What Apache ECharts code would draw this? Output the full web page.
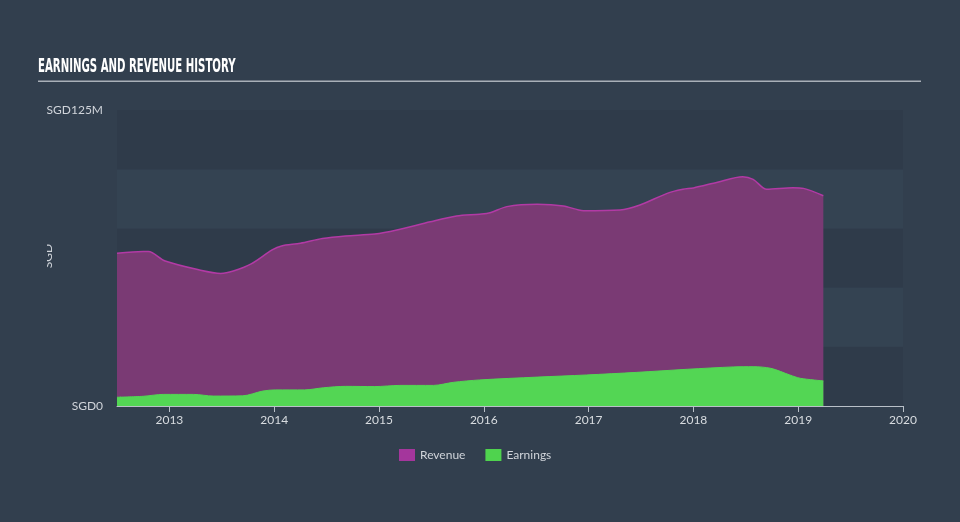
<!DOCTYPE html>
<html>
<head>
<meta charset="utf-8">
<script src="https://cdn.jsdelivr.net/npm/echarts@6/dist/echarts.min.js"></script>
<style>
html,body{margin:0;padding:0;background:#323f4e;}
#chart{width:960px;height:522px;}
</style>
</head>
<body>
<div id="chart"></div>
<script>
// Data (values in SGD millions, x in decimal years)
var revenueYears = [2012.5, 2012.75, 2012.8, 2012.96, 2013.29, 2013.49, 2013.61, 2013.78, 2013.98, 2014.07, 2014.25, 2014.46, 2014.68, 2014.96, 2015.17, 2015.49, 2015.74, 2015.96, 2016.06, 2016.22, 2016.51, 2016.76, 2016.95, 2017.3, 2017.49, 2017.75, 2017.9, 2018.0, 2018.23, 2018.47, 2018.57, 2018.7, 2018.95, 2019.05, 2019.24];
var revenueValues = [64.5, 65.2, 65.2, 61.2, 57.4, 56.0, 57.0, 60.0, 65.9, 67.6, 68.7, 70.7, 71.8, 72.6, 74.3, 77.8, 80.2, 81.0, 81.6, 84.2, 85.2, 84.5, 82.5, 82.8, 84.9, 89.8, 91.5, 92.1, 94.5, 96.8, 95.7, 91.5, 92.2, 91.9, 88.8];
var earningsYears = [2012.5, 2012.75, 2012.94, 2013.23, 2013.42, 2013.7, 2013.89, 2014.01, 2014.29, 2014.47, 2014.68, 2014.96, 2015.2, 2015.52, 2015.71, 2015.96, 2016.51, 2016.98, 2017.46, 2017.94, 2018.38, 2018.57, 2018.74, 2018.92, 2019.02, 2019.24];
var earningsValues = [3.7, 4.1, 4.9, 4.9, 4.2, 4.3, 6.3, 6.8, 6.8, 7.7, 8.3, 8.2, 8.7, 8.7, 10.0, 11.0, 12.2, 13.1, 14.2, 15.5, 16.5, 16.6, 15.9, 13.1, 11.7, 10.6];
var yearTicks = [2013, 2014, 2015, 2016, 2017, 2018, 2019, 2020];
var yTickLabels = {0: 'SGD0', 125: 'SGD125M'};
var titleText = 'EARNINGS AND REVENUE HISTORY';
var seriesNames = ['Revenue', 'Earnings'];

function pairs(xs, ys) { return xs.map(function (x, i) { return [x, ys[i]]; }); }

var chart = echarts.init(document.getElementById('chart'), null, {renderer: 'canvas'});
var bg = '#323f4e';
chart.setOption({
  backgroundColor: bg,
  animation: false,
  grid: {left: 117, right: 57, top: 110, bottom: 116, containLabel: false},
  legend: {
    data: [
      {name: seriesNames[0], itemStyle: {color: '#a4369c'}},
      {name: seriesNames[1], itemStyle: {color: '#4fd34e'}}
    ],
    left: 394, top: 444, itemWidth: 16, itemHeight: 12, itemGap: 20,
    icon: 'rect',
    textStyle: {color: '#d0d4da', fontSize: 12, fontFamily: 'Lato, "Open Sans", sans-serif'}
  },
  xAxis: {
    type: 'value', min: 2012.5, max: 2020,
    axisLine: {show: true, lineStyle: {color: '#b9c0c8', width: 1}},
    axisTick: {show: true, customValues: yearTicks, length: 6, lineStyle: {color: '#b9c0c8'}},
    axisLabel: {show: true, customValues: yearTicks, color: '#d8dce0', fontSize: 12, margin: 8,
      fontFamily: 'Lato, "Open Sans", sans-serif',
      formatter: function (v) { return String(Math.round(v)); }},
    splitLine: {show: false}
  },
  yAxis: {
    type: 'value', min: 0, max: 125, interval: 25,
    axisLine: {show: false}, axisTick: {show: false},
    splitLine: {show: false},
    splitArea: {show: true, areaStyle: {color: ['#2f3b4a', '#344352']}},
    axisLabel: {color: '#d0d4da', fontSize: 12, margin: 14,
      fontFamily: 'Lato, "Open Sans", sans-serif',
      formatter: function (v) { return yTickLabels[v] !== undefined ? yTickLabels[v] : ''; }}
  },
  series: [
    {
      name: seriesNames[0], type: 'line', data: pairs(revenueYears, revenueValues),
      smooth: 0.3, symbol: 'none',
      lineStyle: {color: '#b23aa5', width: 1.5},
      itemStyle: {color: '#a4369c'},
      areaStyle: {color: '#7a3a74', opacity: 1},
      z: 2
    },
    {
      name: seriesNames[1], type: 'line', data: pairs(earningsYears, earningsValues),
      smooth: 0.3, symbol: 'none',
      lineStyle: {color: '#53d654', width: 1},
      itemStyle: {color: '#4fd34e'},
      areaStyle: {color: '#53d654', opacity: 1},
      z: 3
    }
  ],
  graphic: [
    {type: 'text', x: 38, y: 58, scaleX: 0.535,
      style: {text: titleText, fill: '#ffffff', verticalAlign: 'top',
      font: 'bold 19px "DejaVu Sans", sans-serif'}},
    {type: 'rect', shape: {x: 38, y: 80.5, width: 883, height: 1.5}, style: {fill: '#a9b0b8'}},
    {type: 'text', x: 48, y: 256, rotation: Math.PI / 2,
      style: {text: 'SGD', fill: '#d0d4da', font: '12px Lato, "Open Sans", sans-serif', align: 'center', verticalAlign: 'middle'}},
    {type: 'rect', shape: {x: 30, y: 238, width: 17, height: 36}, style: {fill: bg}}
  ]
});
</script>
</body>
</html>
